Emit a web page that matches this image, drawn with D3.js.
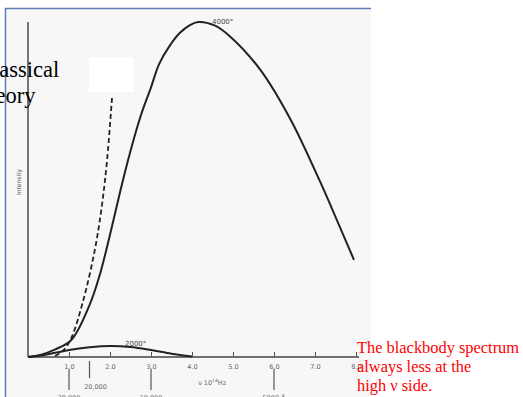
<!DOCTYPE html>
<html>
<head>
<meta charset="utf-8">
<script src="https://cdn.jsdelivr.net/npm/d3@7"></script>
<style>
  body { margin: 0; background: #fff; }
  svg { display: block; }
</style>
</head>
<body>
<svg id="svg"></svg>
<script>
// frequency (10^14 Hz) and intensity (relative)
const nu4000 = [0, 0.3, 0.65, 1.05, 1.5, 1.75, 2.0, 2.25, 2.5, 2.75, 3.0, 3.2, 3.45, 3.7, 3.95, 4.15, 4.55, 4.9, 5.65, 6.4, 7.1, 7.6, 7.95];
const int4000 = [0, 0.6, 2.2, 5, 15.5, 24.5, 36.5, 49.5, 61.5, 72, 80.5, 87.5, 92.8, 96.7, 99.1, 100, 99, 96, 86, 71, 53, 39, 29];

const nu2000 = [0, 0.4, 1.0, 1.5, 2.0, 2.5, 3.0, 3.5, 4.0];
const int2000 = [0, 0.6, 2.1, 2.9, 3.3, 3.0, 2.1, 1.0, 0.15];

const nuClassical = [0.66, 0.85, 1.05, 1.35, 1.63, 1.8, 1.93, 2.05];
const intClassical = [0.3, 1.8, 5.5, 17, 32, 45, 59, 77.5];

const tickValues = [1, 2, 3, 4, 5, 6, 7, 8];
const wavelengthNu = [1.0, 1.5, 3.0, 6.0];
const wavelengthLabels = ['30,000', '20,000', '10,000', '5000 Å'];
const redLines = ['The blackbody spectrum', 'always less at the', 'high ν side.'];

const W = 523, H = 397;
const svg = d3.select('#svg').attr('width', W).attr('height', H);

const x = d3.scaleLinear().domain([0, 8]).range([28, 356]);
const y = d3.scaleLinear().domain([0, 100]).range([357, 22]);

// scanned page
svg.append('rect').attr('x', 5).attr('y', 8).attr('width', 366).attr('height', H - 8).attr('fill', '#f7f7f7');
svg.append('path').attr('d', 'M5.5,' + H + 'V8.5H371').attr('fill', 'none').attr('stroke', '#5b7db3').attr('stroke-width', 1.5);

// axes
const xAxis = d3.axisBottom(x).tickValues(tickValues).tickFormat(d3.format('.1f'))
  .tickSizeInner(-5).tickSizeOuter(0).tickPadding(7);
const gx = svg.append('g').attr('transform', 'translate(0,' + y(0) + ')').call(xAxis);
gx.select('.domain').attr('stroke', '#444').attr('stroke-width', 1.6).attr('d', 'M' + x(0) + ',0H' + (x(8) + 3));
gx.selectAll('.tick line').attr('stroke', '#555').attr('stroke-width', 1);
gx.selectAll('.tick text').attr('fill', '#666').attr('font-size', 6.5).attr('font-family', 'DejaVu Sans');

svg.append('line')
  .attr('x1', x(0)).attr('x2', x(0)).attr('y1', y(0)).attr('y2', y(100))
  .attr('stroke', '#555').attr('stroke-width', 1.6);

svg.append('text')
  .attr('transform', 'translate(21,' + 182 + ') rotate(-90)')
  .attr('text-anchor', 'middle').attr('font-size', 6).attr('font-family', 'DejaVu Sans')
  .attr('fill', '#555').text('Intensity');

const nuLabel = svg.append('text').attr('x', x(4.15)).attr('y', 385)
  .attr('font-size', 6.5).attr('font-family', 'DejaVu Sans').attr('fill', '#666');
nuLabel.append('tspan').text('ν 10');
nuLabel.append('tspan').attr('dy', -3).attr('font-size', 4.5).text('14');
nuLabel.append('tspan').attr('dy', 3).text('Hz');

// wavelength markers
const wl = svg.append('g').selectAll('g').data(wavelengthNu).enter().append('g');
wl.append('line')
  .attr('x1', d => x(d)).attr('x2', d => x(d))
  .attr('y1', (d, i) => i === 1 ? 361 : 369)
  .attr('y2', (d, i) => i === 1 ? 378 : 390)
  .attr('stroke', '#555').attr('stroke-width', 1.2);
wl.append('text')
  .attr('x', (d, i) => x(d) + (i === 1 ? 6 : 0))
  .attr('y', (d, i) => i === 1 ? 389 : 400)
  .attr('text-anchor', 'middle').attr('font-size', 6.5).attr('font-family', 'DejaVu Sans')
  .attr('fill', '#666').text((d, i) => wavelengthLabels[i]);

// curves
const line = d3.line().x(d => x(d[0])).y(d => y(d[1])).curve(d3.curveCatmullRom);

svg.append('path').datum(d3.zip(nu4000, int4000)).attr('d', line)
  .attr('fill', 'none').attr('stroke', '#222').attr('stroke-width', 2);
svg.append('path').datum(d3.zip(nu2000, int2000)).attr('d', line)
  .attr('fill', 'none').attr('stroke', '#222').attr('stroke-width', 2);
svg.append('path').datum(d3.zip(nuClassical, intClassical)).attr('d', line)
  .attr('fill', 'none').attr('stroke', '#222').attr('stroke-width', 1.8).attr('stroke-dasharray', '5,3');

svg.append('text').attr('x', 212).attr('y', 24).attr('font-size', 7).attr('font-family', 'DejaVu Sans')
  .attr('fill', '#444').text('4000°');
svg.append('text').attr('x', 125).attr('y', 346).attr('font-size', 7).attr('font-family', 'DejaVu Sans')
  .attr('fill', '#444').text('2000°');

// patch on the scan
svg.append('rect').attr('x', 89).attr('y', 57).attr('width', 45).attr('height', 35).attr('fill', '#fff');

// slide text
svg.append('text').attr('x', -22).attr('y', 77).attr('font-size', 22.5)
  .attr('font-family', 'Liberation Serif').attr('fill', '#000').text('Classical');
svg.append('text').attr('x', -22).attr('y', 103).attr('font-size', 22.5)
  .attr('font-family', 'Liberation Serif').attr('fill', '#000').text('theory');

svg.append('g').selectAll('text').data(redLines).enter().append('text')
  .attr('x', 357).attr('y', (d, i) => 353 + i * 19)
  .attr('font-size', 16.4).attr('font-family', 'Liberation Serif').attr('fill', '#f00')
  .text(d => d);
</script>
</body>
</html>
